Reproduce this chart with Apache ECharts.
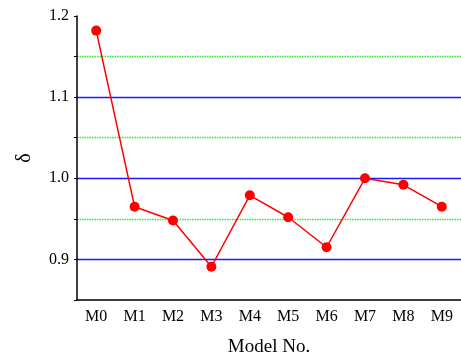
<!DOCTYPE html>
<html><head><meta charset="utf-8">
<script src="https://cdn.jsdelivr.net/npm/echarts@6/dist/echarts.min.js"></script>
<style>html,body{margin:0;padding:0;background:#fff}#c{width:461px;height:362px}</style>
</head><body><div id="c"></div>
<script>
const categories = ['M0','M1','M2','M3','M4','M5','M6','M7','M8','M9'];
const deltaValues = [1.182, 0.965, 0.948, 0.891, 0.979, 0.952, 0.915, 1.000, 0.992, 0.965];
const blueLines = [0.9, 1.0, 1.1];
const greenLines = [0.95, 1.05, 1.15];
const yMin = 0.85, yMax = 1.2, yStep = 0.05;

const font = 'Liberation Serif';
const chart = echarts.init(document.getElementById('c'));
const tickVals = [];
for (let i = 0; yMin + i * yStep <= yMax + 1e-9; i++) tickVals.push(+(yMin + i * yStep).toFixed(2));
const has = (arr, v) => arr.some(a => Math.abs(a - v) < 1e-6);
const NONE = 'rgba(0,0,0,0)';
const blueColors = tickVals.map(v => has(blueLines, v) ? '#1a1aff' : NONE);
const greenColors = tickVals.map(v => has(greenLines, v) ? '#2ee82e' : NONE);

function helperY(colors, type, w) {
  return {
    type: 'value', min: yMin, max: yMax, interval: yStep, position: 'left',
    axisLine: {show: false}, axisTick: {show: false}, axisLabel: {show: false},
    splitLine: {show: true, lineStyle: {color: colors, width: w, type: type}}
  };
}
chart.setOption({
  animation: false,
  grid: {left: 77, top: 16, bottom: 62, right: -4, containLabel: false},
  xAxis: [{
    type: 'category', data: categories, boundaryGap: true,
    axisLine: {lineStyle: {color: '#000', width: 1.5}},
    axisTick: {alignWithLabel: true, length: 5, lineStyle: {color: '#000', width: 1}},
    axisLabel: {color: '#000', fontFamily: font, fontSize: 16, margin: 9},
    name: 'Model No.', nameLocation: 'middle', nameGap: 38,
    nameTextStyle: {color: '#000', fontFamily: font, fontSize: 19},
    splitLine: {show: false}
  }, {
    type: 'category', data: categories, boundaryGap: true, position: 'bottom',
    axisLine: {show: false},
    axisTick: {length: 3, lineStyle: {color: '#000', width: 1}},
    axisLabel: {show: false}, splitLine: {show: false}
  }],
  yAxis: [{
    type: 'value', min: yMin, max: yMax, interval: yStep,
    axisLine: {show: true, lineStyle: {color: '#000', width: 1.5}},
    axisTick: {show: true, length: 3, lineStyle: {color: '#000', width: 1}},
    axisLabel: {color: '#000', fontFamily: font, fontSize: 16, margin: 8,
      formatter: v => (Math.round(v * 100) % 10 === 0 ? v.toFixed(1) : '')},
    splitLine: {show: false},
    name: 'δ', nameLocation: 'middle', nameGap: 42,
    nameTextStyle: {color: '#000', fontFamily: font, fontSize: 20},
    z: 3
  }, helperY(blueColors, 'solid', 1.3), helperY(greenColors, [1.5, 1], 1.3)],
  series: [{
    type: 'line', data: deltaValues, xAxisIndex: 0, yAxisIndex: 0,
    symbol: 'circle', symbolSize: 10,
    lineStyle: {color: '#ff0000', width: 1.5},
    itemStyle: {color: '#ff0000'},
    z: 5
  }]
});
</script></body></html>
